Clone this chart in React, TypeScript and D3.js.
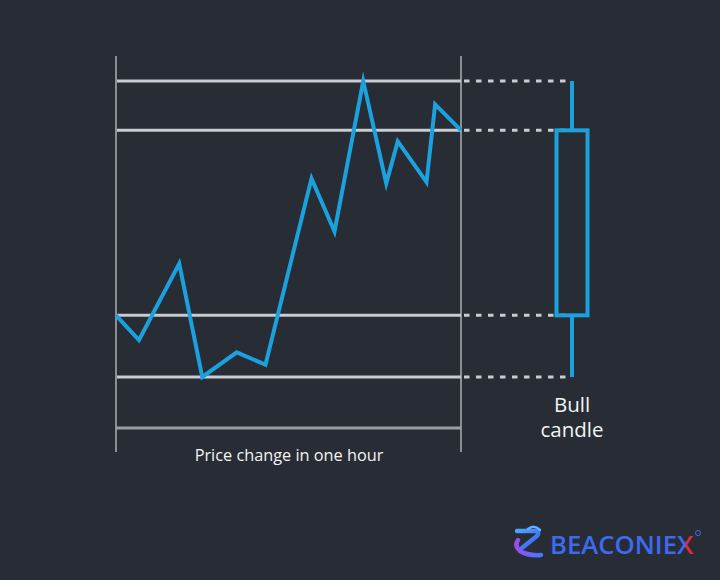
import React from "react";
import * as d3 from "d3";

// Price path over one hour (minutes, price)
const minutes = [0, 4, 11, 15, 21, 26, 34, 38, 43, 47, 49, 54, 55.5, 60];
const prices = [105, 103, 109.2, 100, 102, 101, 116.1, 111.8, 124, 115.7, 119.1, 115.8, 122.1, 120];

const levelNames = ["high", "close", "open", "low"];
const levelValues = [124, 120, 105, 100];

const xLabel = "Price change in one hour";
const candleLabel = ["Bull", "candle"];
const brand = "BEACONIE";
const brandLast = "X";

const W = 720;
const H = 580;
const BG = "#282c34";
const BLUE = "#1ba1de";
const LIGHT = "#c8cbd0";
const GREY = "#8b8e92";

export default function App() {
  const x = d3.scaleLinear().domain([0, 60]).range([116, 461]);
  const y = d3.scaleLinear().domain([100, 124]).range([377, 81]);
  const line = d3
    .line<number>()
    .x((_, i) => x(minutes[i]))
    .y((d) => y(d));
  const pathD = line(prices) || "";

  const high = levelValues[0];
  const close = levelValues[1];
  const open = levelValues[2];
  const low = levelValues[3];
  const cx = 572;
  const bodyW = 31;

  return (
    <svg
      width={W}
      height={H}
      style={{ position: "absolute", left: 0, top: 0, display: "block" }}
      fontFamily="'Open Sans', sans-serif"
    >
      <defs>
        <linearGradient id="logoA" x1="0" y1="0" x2="1" y2="1">
          <stop offset="0" stopColor="#4fa3ff" />
          <stop offset="1" stopColor="#3a5cf0" />
        </linearGradient>
        <linearGradient id="logoB" x1="0" y1="0" x2="1" y2="0">
          <stop offset="0" stopColor="#9a4cf0" />
          <stop offset="1" stopColor="#3f7bff" />
        </linearGradient>
        <linearGradient id="logoX" x1="0" y1="0" x2="1" y2="0">
          <stop offset="0.45" stopColor="#3d6af0" />
          <stop offset="0.55" stopColor="#e0283e" />
        </linearGradient>
      </defs>
      <rect x={0} y={0} width={W} height={H} fill={BG} />

      {/* vertical boundaries */}
      <line x1={x(0)} x2={x(0)} y1={56} y2={452} stroke={GREY} strokeWidth={2} />
      <line x1={x(60)} x2={x(60)} y1={56} y2={452} stroke={GREY} strokeWidth={2} />

      {/* horizontal levels */}
      {levelValues.map((v, i) => (
        <g key={levelNames[i]}>
          <line x1={x(0) + 1} x2={x(60)} y1={y(v)} y2={y(v)} stroke={LIGHT} strokeWidth={3} />
          <line
            x1={x(60) + 3}
            x2={cx - 2}
            y1={y(v)}
            y2={y(v)}
            stroke={LIGHT}
            strokeWidth={3}
            strokeDasharray="5.5 6.5"
          />
        </g>
      ))}

      {/* bottom bar */}
      <line x1={x(0)} x2={x(60)} y1={428} y2={428} stroke="#9a9da1" strokeWidth={3} />

      {/* price line */}
      <path d={pathD} fill="none" stroke={BLUE} strokeWidth={4} strokeLinejoin="miter" strokeMiterlimit={10} />

      {/* candle */}
      <line x1={cx} x2={cx} y1={y(high)} y2={y(close)} stroke={BLUE} strokeWidth={4} />
      <line x1={cx} x2={cx} y1={y(open)} y2={y(low)} stroke={BLUE} strokeWidth={4} />
      <rect
        x={cx - bodyW / 2}
        y={y(close)}
        width={bodyW}
        height={y(open) - y(close)}
        fill="none"
        stroke={BLUE}
        strokeWidth={4}
      />

      {/* labels */}
      <text x={289} y={461} textAnchor="middle" fill="#f4f4f4" fontSize={16.3}>
        {xLabel}
      </text>
      <text x={cx} y={412} textAnchor="middle" fill="#f4f4f4" fontSize={20.5}>
        {candleLabel[0]}
      </text>
      <text x={cx} y={437} textAnchor="middle" fill="#f4f4f4" fontSize={20.5}>
        {candleLabel[1]}
      </text>

      {/* logo */}
      <g>
        <path d="M517 531 L536 531 Q540 532 537 536 L522 548" fill="none" stroke="url(#logoA)" strokeWidth={4.5} strokeLinecap="round" />
        <path d="M518 540 Q514 546 520 551 Q528 556 541 555" fill="none" stroke="url(#logoB)" strokeWidth={4.5} strokeLinecap="round" />
        <path d="M528 529 Q534 524 540 530" fill="none" stroke="#5fb0ff" strokeWidth={2.5} strokeLinecap="round" />
        <text x={550} y={554} fill="#3d6af0" fontSize={26} fontWeight={600} textLength={127} lengthAdjust="spacingAndGlyphs">
          {brand}
        </text>
        <text x={677} y={554} fill="url(#logoX)" fontSize={26} fontWeight={600}>
          {brandLast}
        </text>
        <circle cx={698} cy={533} r={2.5} fill="none" stroke="#3d6af0" strokeWidth={1} />
      </g>
    </svg>
  );
}
